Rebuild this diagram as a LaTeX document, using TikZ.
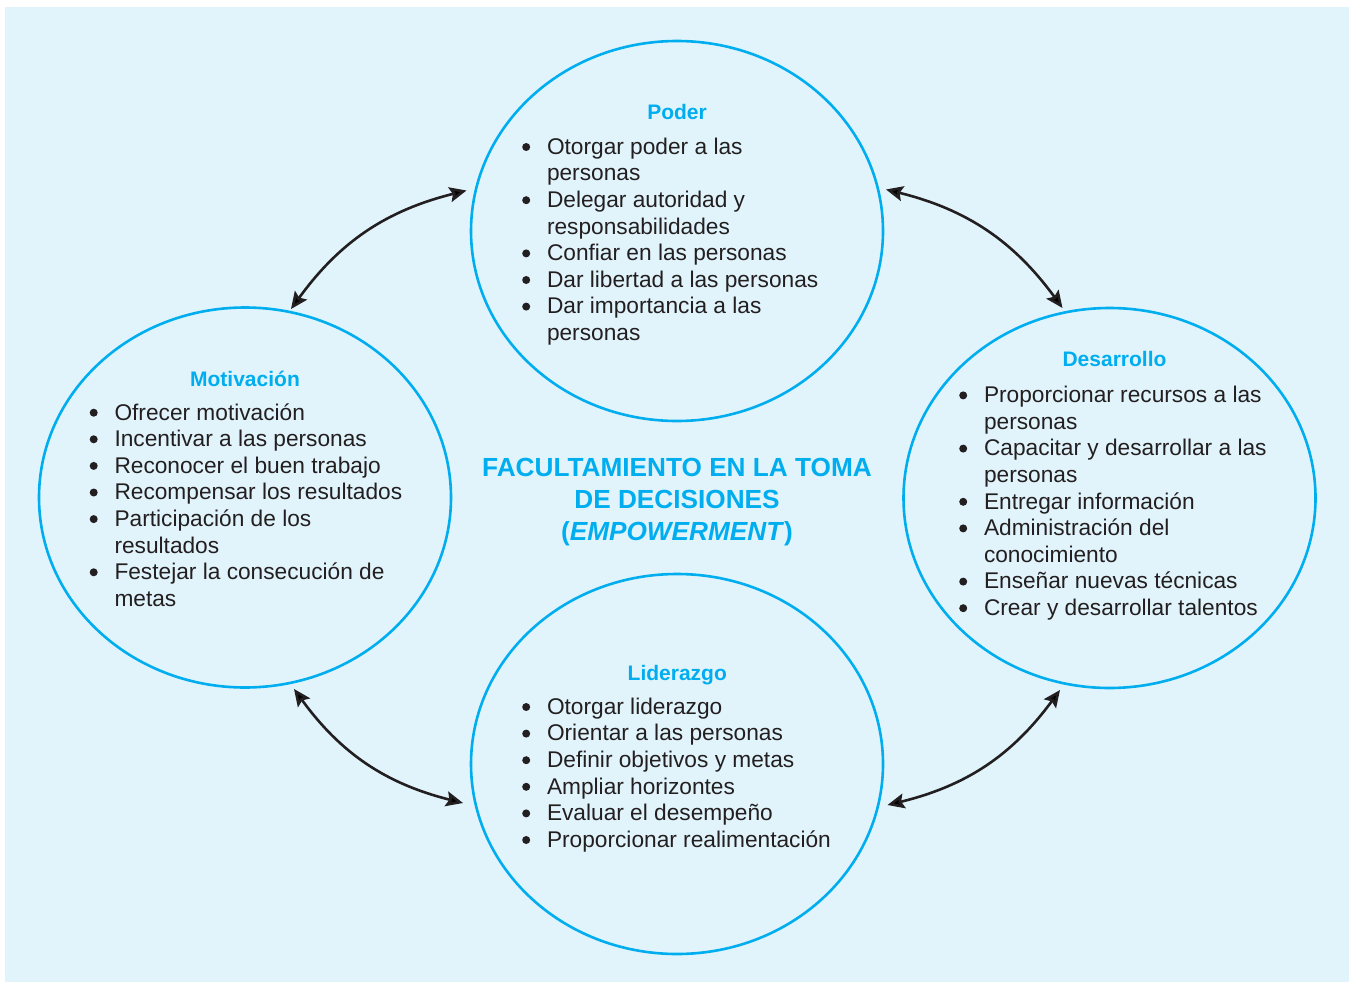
\documentclass[tikz,border=0pt]{standalone}
\usepackage{fontspec}
\setmainfont{Liberation Sans}
\usetikzlibrary{arrows.meta,shapes.geometric}
\definecolor{bgblue}{HTML}{E1F4FC}
\definecolor{cyanline}{HTML}{00AEEF}
\definecolor{txtdark}{HTML}{231F20}
\newcommand\blt{\tikz[baseline=0pt]\fill[txtdark] (4pt,7.3pt) circle (4pt);}
\newenvironment{blist}{\begin{tabular}[t]{@{}l@{\hspace{16.8pt}}l@{}}}{\end{tabular}}
\tikzset{
  bubble/.style={ellipse, draw=cyanline, line width=2.6pt, minimum width=412pt, minimum height=380pt, inner sep=0pt},
  heading/.style={anchor=base, text=cyanline, font=\fontsize{21}{25}\selectfont\bfseries, inner sep=0pt},
  itemlist/.style={anchor=base west, text=txtdark, font=\fontsize{22.7}{26.6}\selectfont, inner sep=0pt},
  titletext/.style={anchor=base, text=cyanline, font=\fontsize{26.2}{32}\selectfont\bfseries, inner sep=0pt},
  link/.style={line width=2.6pt, draw=txtdark, {Stealth[length=17pt,width=15pt,inset=3pt]}-{Stealth[length=17pt,width=15pt,inset=3pt]}},
}
\begin{document}
\begin{tikzpicture}[x=1pt,y=-1pt]
\useasboundingbox (0,0) rectangle (1349,982);
\fill[bgblue] (5,7) rectangle (1349,982);

% bubbles
\node[bubble] (P) at (677,231) {};
\node[bubble] (M) at (245,497.5) {};
\node[bubble] (D) at (1109.5,498) {};
\node[bubble] (L) at (677,764) {};

% title
\node[titletext] (T) at (677,476) {\begin{tabular}[t]{@{}c@{}}FACULTAMIENTO EN LA TOMA\\DE DECISIONES\\(\textit{EMPOWERMENT})\end{tabular}};

% Poder
\node[heading] (Ph) at (677,119) {Poder};
\node[itemlist] (Pl) at (522,154.3) {\begin{blist}
\blt & Otorgar poder a las\\
 & personas\\
\blt & Delegar autoridad y\\
 & responsabilidades\\
\blt & Confiar en las personas\\
\blt & Dar libertad a las personas\\
\blt & Dar importancia a las\\
 & personas
\end{blist}};

% Motivacion
\node[heading] (Mh) at (245,386) {Motivación};
\node[itemlist] (Ml) at (89.5,420) {\begin{blist}
\blt & Ofrecer motivación\\
\blt & Incentivar a las personas\\
\blt & Reconocer el buen trabajo\\
\blt & Recompensar los resultados\\
\blt & Participación de los\\
 & resultados\\
\blt & Festejar la consecución de\\
 & metas
\end{blist}};

% Desarrollo
\node[heading] (Dh) at (1114.5,366.5) {Desarrollo};
\node[itemlist] (Dl) at (959,402.7) {\begin{blist}
\blt & Proporcionar recursos a las\\
 & personas\\
\blt & Capacitar y desarrollar a las\\
 & personas\\
\blt & Entregar información\\
\blt & Administración del\\
 & conocimiento\\
\blt & Enseñar nuevas técnicas\\
\blt & Crear y desarrollar talentos
\end{blist}};

% Liderazgo
\node[heading] (Lh) at (677.3,680) {Liderazgo};
\node[itemlist] (Ll) at (522,714.3) {\begin{blist}
\blt & Otorgar liderazgo\\
\blt & Orientar a las personas\\
\blt & Definir objetivos y metas\\
\blt & Ampliar horizontes\\
\blt & Evaluar el desempeño\\
\blt & Proporcionar realimentación
\end{blist}};

% arrow ends
\coordinate (a1) at (466.5,190.5);
\coordinate (a2) at (291,309);
\coordinate (b1) at (886,189.5);
\coordinate (b2) at (1062.5,308);
\coordinate (c1) at (294,689);
\coordinate (c2) at (463,803);
\coordinate (d1) at (1060,690);
\coordinate (d2) at (887.5,805);

\draw[link] (a1) to[bend right=20] (a2);
\draw[link] (b1) to[bend left=20] (b2);
\draw[link] (c1) to[bend right=20] (c2);
\draw[link] (d1) to[bend left=20] (d2);
\end{tikzpicture}
\end{document}
